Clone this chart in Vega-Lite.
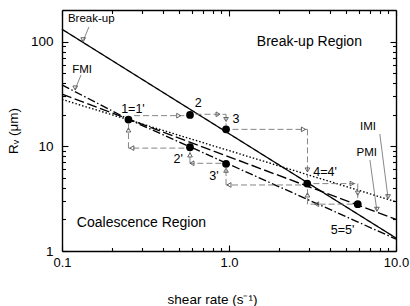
{
  "$schema": "https://vega.github.io/schema/vega-lite/v6.json",
  "width": 334,
  "height": 241,
  "autosize": {"type": "none"},
  "padding": {"left": 62, "top": 10, "right": 14, "bottom": 55},
  "background": "white",
  "config": {
    "view": {"stroke": null},
    "font": "Liberation Sans",
    "axis": {
      "grid": false,
      "domainColor": "black",
      "domainWidth": 1.4,
      "tickColor": "black",
      "tickWidth": 1.1,
      "labelColor": "black",
      "titleColor": "black",
      "labelFont": "Liberation Sans",
      "titleFont": "Liberation Sans",
      "titleFontWeight": "normal",
      "labelFlush": false,
      "labelOverlap": false
    }
  },
  "datasets": {
    "models": [
      {"curve": "Break-up", "sr": 0.1, "rv": 131},
      {"curve": "Break-up", "sr": 10, "rv": 1.33},
      {"curve": "FMI", "sr": 0.1, "rv": 38.5},
      {"curve": "FMI", "sr": 0.25, "rv": 18.1},
      {"curve": "FMI", "sr": 10, "rv": 1.3},
      {"curve": "PMI", "sr": 0.1, "rv": 31.5},
      {"curve": "PMI", "sr": 10, "rv": 2.0},
      {"curve": "IMI", "sr": 0.1, "rv": 28},
      {"curve": "IMI", "sr": 10, "rv": 2.95}
    ],
    "steps": [
      {"sr": 0.27, "rv": 19.6, "sr2": 0.54, "rv2": 19.6},
      {"sr": 0.63, "rv": 20.2, "sr2": 0.96, "rv2": 20.2},
      {"sr": 0.96, "rv": 20.2, "sr2": 0.96, "rv2": 15.8},
      {"sr": 1.05, "rv": 14.5, "sr2": 2.95, "rv2": 14.5},
      {"sr": 2.95, "rv": 14.5, "sr2": 2.95, "rv2": 5.0},
      {"sr": 3.2, "rv": 4.4, "sr2": 5.9, "rv2": 4.4},
      {"sr": 5.9, "rv": 4.4, "sr2": 5.9, "rv2": 3.2},
      {"sr": 5.5, "rv": 2.8, "sr2": 2.95, "rv2": 2.8},
      {"sr": 2.95, "rv": 2.8, "sr2": 2.95, "rv2": 4.0},
      {"sr": 2.7, "rv": 4.27, "sr2": 0.96, "rv2": 4.27},
      {"sr": 0.96, "rv": 4.27, "sr2": 0.96, "rv2": 6.2},
      {"sr": 0.9, "rv": 6.88, "sr2": 0.584, "rv2": 6.88},
      {"sr": 0.584, "rv": 6.88, "sr2": 0.584, "rv2": 9.2},
      {"sr": 0.54, "rv": 9.6, "sr2": 0.25, "rv2": 9.6},
      {"sr": 0.25, "rv": 9.6, "sr2": 0.25, "rv2": 16.5}
    ],
    "pointers": [
      {"sr": 0.145, "rv": 138, "sr2": 0.134, "rv2": 102},
      {"sr": 0.13, "rv": 48, "sr2": 0.12, "rv2": 35},
      {"sr": 8.0, "rv": 13.1, "sr2": 8.96, "rv2": 3.2},
      {"sr": 6.98, "rv": 7.4, "sr2": 7.69, "rv2": 2.4}
    ],
    "heads": [
      {"sr": 0.5, "rv": 19.6, "dir": "right"},
      {"sr": 0.86, "rv": 20.2, "dir": "right"},
      {"sr": 0.96, "rv": 18.0, "dir": "down"},
      {"sr": 2.79, "rv": 14.5, "dir": "right"},
      {"sr": 2.95, "rv": 5.94, "dir": "down"},
      {"sr": 5.46, "rv": 4.4, "dir": "right"},
      {"sr": 5.9, "rv": 3.56, "dir": "down"},
      {"sr": 3.35, "rv": 2.8, "dir": "left"},
      {"sr": 2.95, "rv": 3.43, "dir": "up"},
      {"sr": 1.0, "rv": 4.27, "dir": "left"},
      {"sr": 0.96, "rv": 5.9, "dir": "up"},
      {"sr": 0.6, "rv": 6.88, "dir": "left"},
      {"sr": 0.584, "rv": 8.26, "dir": "up"},
      {"sr": 0.262, "rv": 9.6, "dir": "left"},
      {"sr": 0.25, "rv": 14.3, "dir": "up"},
      {"sr": 0.134, "rv": 104, "dir": "down"},
      {"sr": 0.12, "rv": 36, "dir": "down"},
      {"sr": 8.96, "rv": 3.3, "dir": "down"},
      {"sr": 7.69, "rv": 2.5, "dir": "down"}
    ],
    "states": [
      {"state": "1", "sr": 0.25, "rv": 18},
      {"state": "2", "sr": 0.584, "rv": 19.9},
      {"state": "3", "sr": 0.96, "rv": 14.5},
      {"state": "2'", "sr": 0.584, "rv": 9.8},
      {"state": "3'", "sr": 0.96, "rv": 6.8},
      {"state": "4", "sr": 2.94, "rv": 4.4},
      {"state": "5", "sr": 5.9, "rv": 2.8}
    ],
    "regions": [
      {"text": "Break-up Region", "sr": 3.03, "rv": 100},
      {"text": "Coalescence Region", "sr": 0.299, "rv": 1.86}
    ],
    "curveLabels": [
      {"text": "Break-up", "sr": 0.1497, "rv": 164},
      {"text": "FMI", "sr": 0.132, "rv": 53.5},
      {"text": "IMI", "sr": 6.79, "rv": 15.3},
      {"text": "PMI", "sr": 6.68, "rv": 8.63}
    ],
    "stateLabels": [
      {"text": "1=1'", "sr": 0.266, "rv": 22.7},
      {"text": "2", "sr": 0.655, "rv": 25.7},
      {"text": "3", "sr": 1.1, "rv": 18.1},
      {"text": "2'", "sr": 0.497, "rv": 7.5},
      {"text": "3'", "sr": 0.813, "rv": 5.2},
      {"text": "4=4'", "sr": 3.76, "rv": 5.72},
      {"text": "5=5'", "sr": 4.79, "rv": 1.59}
    ]
  },
  "layer": [
    {
      "data": {"name": "models"},
      "mark": {"type": "line", "color": "black", "strokeWidth": 1.35},
      "encoding": {
        "x": {
          "field": "sr", "type": "quantitative",
          "scale": {"type": "log", "domain": [0.1, 10], "nice": false},
          "axis": {
            "orient": "bottom",
            "values": [0.1, 0.2, 0.3, 0.4, 0.5, 0.6, 0.7, 0.8, 0.9, 1, 2, 3, 4, 5, 6, 7, 8, 9, 10],
            "labelExpr": "datum.value == 0.1 ? '0.1' : datum.value == 1 ? '1.0' : datum.value == 10 ? '10.0' : ''",
            "tickSize": {"condition": {"test": "datum.value == 0.1 || datum.value == 1 || datum.value == 10", "value": -6}, "value": -3.5},
            "labelPadding": 11.5,
            "labelFontSize": 13,
            "title": "shear rate (s⁻¹)",
            "titleFontSize": 13.5,
            "titlePadding": 20,
            "titleX": 150
          }
        },
        "y": {
          "field": "rv", "type": "quantitative",
          "scale": {"type": "log", "domain": [1, 200], "nice": false},
          "axis": {
            "orient": "left",
            "values": [1, 2, 3, 4, 5, 6, 7, 8, 9, 10, 20, 30, 40, 50, 60, 70, 80, 90, 100],
            "labelExpr": "datum.value == 1 ? '1' : datum.value == 10 ? '10' : datum.value == 100 ? '100' : ''",
            "tickSize": {"condition": {"test": "datum.value == 1 || datum.value == 10 || datum.value == 100", "value": -6}, "value": -3.5},
            "labelPadding": 15,
            "labelFontSize": 13.5,
            "title": "Rᵥ (μm)",
            "titleFontSize": 13.5,
            "titlePadding": 10
          }
        },
        "strokeDash": {
          "field": "curve", "type": "nominal",
          "scale": {"domain": ["Break-up", "FMI", "PMI", "IMI"], "range": [[1, 0], [8, 2.5, 1.5, 2.5], [10, 3.5], [1.5, 2]]},
          "legend": null
        }
      }
    },
    {
      "data": {"name": "steps"},
      "mark": {"type": "rule", "color": "#777777", "strokeWidth": 0.9, "strokeDash": [6, 3]},
      "encoding": {
        "x": {
          "field": "sr", "type": "quantitative",
          "scale": {"type": "log", "domain": [0.1, 10], "nice": false},
          "axis": {
            "orient": "top",
            "values": [0.1, 0.2, 0.3, 0.4, 0.5, 0.6, 0.7, 0.8, 0.9, 1, 2, 3, 4, 5, 6, 7, 8, 9, 10],
            "labels": false,
            "title": null,
            "tickSize": {"condition": {"test": "datum.value == 0.1 || datum.value == 1 || datum.value == 10", "value": -6}, "value": -3.5}
          }
        },
        "y": {
          "field": "rv", "type": "quantitative",
          "scale": {"type": "log", "domain": [1, 200], "nice": false},
          "axis": {
            "orient": "right",
            "values": [1, 2, 3, 4, 5, 6, 7, 8, 9, 10, 20, 30, 40, 50, 60, 70, 80, 90, 100],
            "labels": false,
            "title": null,
            "tickSize": {"condition": {"test": "datum.value == 1 || datum.value == 10 || datum.value == 100", "value": -6}, "value": -3.5}
          }
        },
        "x2": {"field": "sr2"},
        "y2": {"field": "rv2"}
      }
    },
    {
      "data": {"name": "pointers"},
      "mark": {"type": "rule", "color": "#555555", "strokeWidth": 0.7},
      "encoding": {
        "x": {"field": "sr", "type": "quantitative", "scale": {"type": "log", "domain": [0.1, 10], "nice": false}, "axis": null},
        "y": {"field": "rv", "type": "quantitative", "scale": {"type": "log", "domain": [1, 200], "nice": false}, "axis": null},
        "x2": {"field": "sr2"},
        "y2": {"field": "rv2"}
      }
    },
    {
      "data": {"name": "heads"},
      "mark": {"type": "point", "filled": false, "size": 22, "color": "#555555", "strokeWidth": 0.9, "opacity": 1},
      "encoding": {
        "x": {"field": "sr", "type": "quantitative", "scale": {"type": "log", "domain": [0.1, 10], "nice": false}, "axis": null},
        "y": {"field": "rv", "type": "quantitative", "scale": {"type": "log", "domain": [1, 200], "nice": false}, "axis": null},
        "shape": {
          "field": "dir", "type": "nominal",
          "scale": {"domain": ["right", "left", "up", "down"], "range": ["triangle-right", "triangle-left", "triangle-up", "triangle-down"]},
          "legend": null
        }
      }
    },
    {
      "data": {"name": "states"},
      "mark": {"type": "circle", "color": "black", "size": 60, "opacity": 1},
      "encoding": {
        "x": {"field": "sr", "type": "quantitative", "scale": {"type": "log", "domain": [0.1, 10], "nice": false}, "axis": null},
        "y": {"field": "rv", "type": "quantitative", "scale": {"type": "log", "domain": [1, 200], "nice": false}, "axis": null}
      }
    },
    {
      "data": {"name": "regions"},
      "mark": {"type": "text", "fontSize": 14, "align": "center", "baseline": "middle", "color": "black"},
      "encoding": {
        "x": {"field": "sr", "type": "quantitative", "scale": {"type": "log", "domain": [0.1, 10], "nice": false}, "axis": null},
        "y": {"field": "rv", "type": "quantitative", "scale": {"type": "log", "domain": [1, 200], "nice": false}, "axis": null},
        "text": {"field": "text"}
      }
    },
    {
      "data": {"name": "curveLabels"},
      "mark": {"type": "text", "fontSize": 11.5, "align": "center", "baseline": "middle", "color": "black"},
      "encoding": {
        "x": {"field": "sr", "type": "quantitative", "scale": {"type": "log", "domain": [0.1, 10], "nice": false}, "axis": null},
        "y": {"field": "rv", "type": "quantitative", "scale": {"type": "log", "domain": [1, 200], "nice": false}, "axis": null},
        "text": {"field": "text"}
      }
    },
    {
      "data": {"name": "stateLabels"},
      "mark": {"type": "text", "fontSize": 12.5, "align": "center", "baseline": "middle", "color": "black"},
      "encoding": {
        "x": {"field": "sr", "type": "quantitative", "scale": {"type": "log", "domain": [0.1, 10], "nice": false}, "axis": null},
        "y": {"field": "rv", "type": "quantitative", "scale": {"type": "log", "domain": [1, 200], "nice": false}, "axis": null},
        "text": {"field": "text"}
      }
    }
  ],
  "resolve": {"axis": {"x": "independent", "y": "independent"}}
}
